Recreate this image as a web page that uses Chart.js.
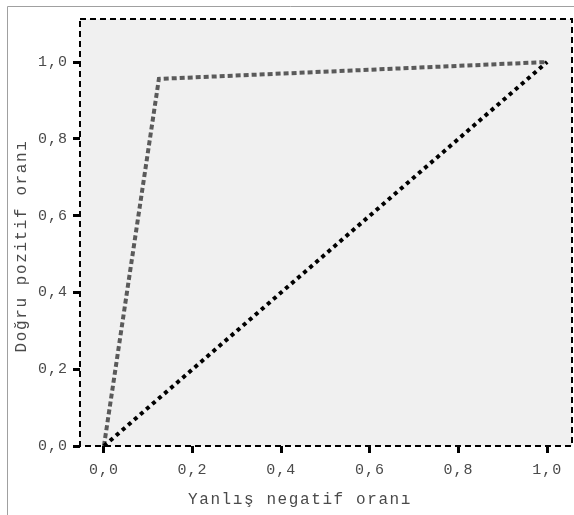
<!DOCTYPE html>
<html>
<head>
<meta charset="utf-8">
<script src="https://cdn.jsdelivr.net/npm/chart.js@4"></script>
<style>
  body { margin: 0; background: #fff; }
  canvas { display: block; }
</style>
</head>
<body>
<canvas id="grafico" width="574" height="515"></canvas>
<script>
// ROC data
const xTicks = [0, 0.2, 0.4, 0.6, 0.8, 1.0];
const yTicks = [0, 0.2, 0.4, 0.6, 0.8, 1.0];
const curvaX = [0, 0.124, 1.0];
const curvaY = [0, 0.956, 1.0];
const diagonalX = [0, 1.0];
const diagonalY = [0, 1.0];
const tituloX = 'Yanlış negatif oranı';
const tituloY = 'Doğru pozitif oranı';

const fonte = '"Liberation Mono", "Courier New", monospace';

function formataTick(v) {
    return v.toFixed(1).replace('.', ',');
}

function pontos(xs, ys) {
    return xs.map((x, i) => ({ x: x, y: ys[i] }));
}

// background, outer frame, plot border and axis titles
const moldura = {
    id: 'moldura',
    beforeDraw(chart) {
        const { ctx, chartArea } = chart;
        ctx.save();
        ctx.fillStyle = '#f0f0f0';
        ctx.fillRect(chartArea.left, chartArea.top, chartArea.right - chartArea.left, chartArea.bottom - chartArea.top);
        ctx.strokeStyle = '#a0a0a0';
        ctx.lineWidth = 1;
        ctx.beginPath();
        ctx.moveTo(7.5, 515);
        ctx.lineTo(7.5, 6.5);
        ctx.lineTo(574, 6.5);
        ctx.stroke();
        ctx.restore();
        ctx.letterSpacing = '1px';
    },
    afterDraw(chart) {
        const { ctx, chartArea } = chart;
        ctx.save();
        ctx.strokeStyle = '#000';
        ctx.lineWidth = 2;
        ctx.setLineDash([6, 4]);
        ctx.strokeRect(chartArea.left, chartArea.top, chartArea.right - chartArea.left, chartArea.bottom - chartArea.top);
        ctx.setLineDash([]);

        ctx.fillStyle = '#4a4a4a';
        ctx.font = '16px ' + fonte;
        ctx.letterSpacing = '1.6px';
        ctx.textAlign = 'center';
        ctx.textBaseline = 'middle';
        ctx.fillText(tituloX, 300, 500);
        ctx.translate(22, 246);
        ctx.rotate(-Math.PI / 2);
        ctx.fillText(tituloY, 0, 0);
        ctx.restore();
    }
};

new Chart(document.getElementById('grafico'), {
    type: 'scatter',
    data: {
        datasets: [
            {
                label: 'diagonal',
                data: pontos(diagonalX, diagonalY),
                showLine: true,
                borderColor: '#000',
                borderWidth: 4,
                borderDash: [4, 4],
                pointRadius: 0,
                tension: 0
            },
            {
                label: 'curva',
                data: pontos(curvaX, curvaY),
                showLine: true,
                borderColor: '#5a5a5a',
                borderWidth: 4,
                borderDash: [5, 3],
                pointRadius: 0,
                tension: 0
            }
        ]
    },
    options: {
        responsive: false,
        animation: false,
        layout: { padding: { left: 0, top: 19, right: 2, bottom: 0 } },
        plugins: {
            legend: { display: false },
            tooltip: { enabled: false }
        },
        scales: {
            x: {
                type: 'linear',
                min: -0.054,
                max: 1.056,
                afterBuildTicks: (s) => { s.ticks = xTicks.map(v => ({ value: v })); },
                afterFit: (s) => { s.height = 69; },
                border: { display: false },
                grid: { drawOnChartArea: false, drawTicks: true, tickLength: 7, tickColor: '#000', tickWidth: 3 },
                ticks: {
                    color: '#4a4a4a',
                    padding: 8,
                    maxRotation: 0,
                    font: { family: fonte, size: 15 },
                    callback: (v) => formataTick(v)
                }
            },
            y: {
                type: 'linear',
                min: 0,
                max: 1.112,
                afterBuildTicks: (s) => { s.ticks = yTicks.map(v => ({ value: v })); },
                afterFit: (s) => { s.width = 80; },
                border: { display: false },
                grid: { drawOnChartArea: false, drawTicks: true, tickLength: 7, tickColor: '#000', tickWidth: 3 },
                ticks: {
                    color: '#4a4a4a',
                    padding: 5,
                    font: { family: fonte, size: 15 },
                    callback: (v) => formataTick(v)
                }
            }
        }
    },
    plugins: [moldura]
});
</script>
</body>
</html>
